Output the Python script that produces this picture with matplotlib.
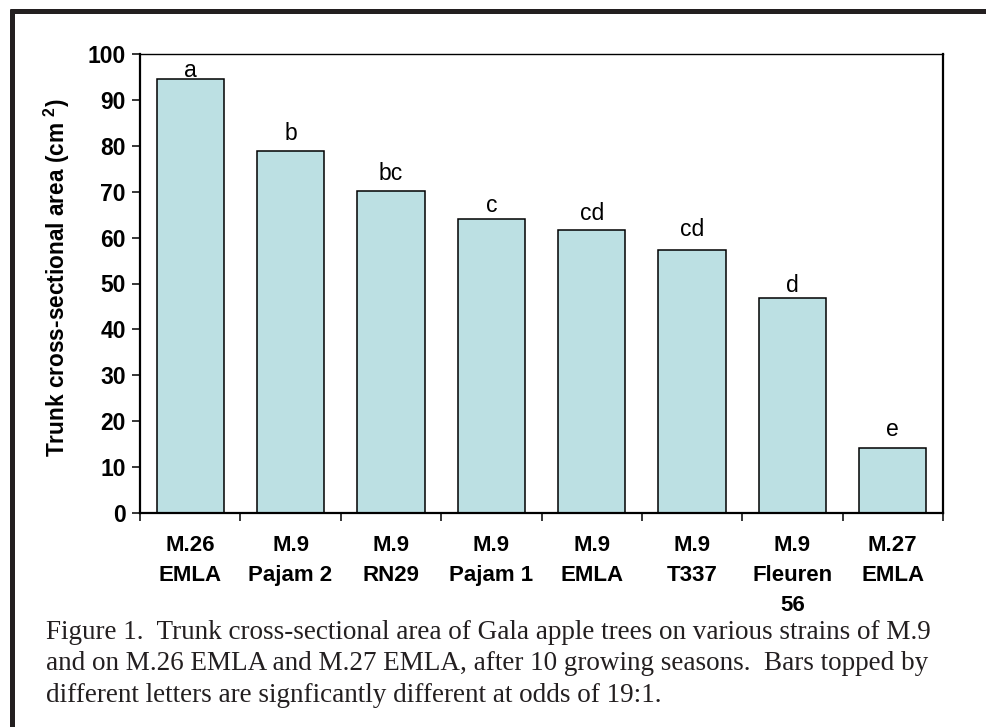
import matplotlib
matplotlib.use("Agg")
import matplotlib.pyplot as plt
from matplotlib.lines import Line2D

plt.rcParams["mathtext.fontset"] = "custom"
plt.rcParams["mathtext.bf"] = "Liberation Sans:bold"
plt.rcParams["mathtext.rm"] = "Liberation Sans:bold"

categories = ["M.26\nEMLA", "M.9\nPajam 2", "M.9\nRN29", "M.9\nPajam 1",
              "M.9\nEMLA", "M.9\nT337", "M.9\nFleuren\n56", "M.27\nEMLA"]
values = [94.5, 78.9, 70.1, 64.0, 61.7, 57.2, 46.9, 14.2]
letters = ["a", "b", "bc", "c", "cd", "cd", "d", "e"]
yticks = [0, 10, 20, 30, 40, 50, 60, 70, 80, 90, 100]

caption_lines = [
    "Figure 1.  Trunk cross-sectional area of Gala apple trees on various strains of M.9",
    "and on M.26 EMLA and M.27 EMLA, after 10 growing seasons.  Bars topped by",
    "different letters are signficantly different at odds of 19:1.",
]

# layout (pixel gaps between bar tops and letters)
letter_gap_px = [2, 11, 11, 7, 10, 14, 6, 12]

W, H = 987, 727
fig = plt.figure(figsize=(W / 100, H / 100), dpi=100)
fig.patch.set_facecolor("white")

# outer frame (top and left)
fig.add_artist(Line2D([10 / W, 1.0], [1 - 10.5 / H, 1 - 10.5 / H], color="#231f20", lw=3.6,
                      transform=fig.transFigure, solid_capstyle="butt"))
fig.add_artist(Line2D([12.5 / W, 12.5 / W], [0, 1 - 8.5 / H], color="#231f20", lw=3.6,
                      transform=fig.transFigure, solid_capstyle="butt"))

ax = fig.add_axes([140 / W, 1 - 513 / H, (943 - 140) / W, (513 - 54) / H])
x = list(range(len(categories)))
ax.bar(x, values, width=0.67, color="#bce0e3", edgecolor="black", linewidth=1.1, zorder=2)

for xi, v, l, g in zip(x, values, letters, letter_gap_px):
    ax.annotate(l, (xi, v), xytext=(0, g), textcoords="offset pixels",
                ha="center", va="baseline", fontsize=16.5,
                family="Liberation Sans", color="black")

ax.set_xlim(-0.5, len(categories) - 0.5)
ax.set_ylim(0, 100)
ax.set_yticks(yticks)
ax.set_yticklabels([str(t) for t in yticks], fontsize=16.5, fontweight="bold",
                   family="Liberation Sans")
ax.tick_params(axis="y", direction="out", length=5.8, width=1.1, pad=4.5)

ax.set_xticks([i - 0.5 for i in range(len(categories) + 1)])
ax.set_xticklabels([])
ax.tick_params(axis="x", which="major", direction="out", length=5.5, width=1.1)
ax.set_xticks(x, minor=True)
ax.set_xticklabels(categories, minor=True, fontsize=16, fontweight="bold",
                   family="Liberation Sans", linespacing=1.55)
ax.tick_params(axis="x", which="minor", length=0, pad=16)

for s in ["left", "bottom", "right"]:
    ax.spines[s].set_linewidth(1.6)
ax.spines["top"].set_linewidth(1.0)

fig.text(57 / W, 1 - 278 / H, "Trunk cross-sectional area (cm $^{\\mathbf{2}}$)", rotation=90,
         ha="center", va="center", fontsize=16.3, fontweight="bold",
         family="Liberation Sans")

baselines = [639, 670.5, 702]
for line, yb in zip(caption_lines, baselines):
    fig.text(46 / W, 1 - yb / H, line, fontsize=19.5, family="Liberation Serif",
             color="#231f20", va="baseline", ha="left")

fig.savefig("out.png", dpi=100, facecolor="white")
